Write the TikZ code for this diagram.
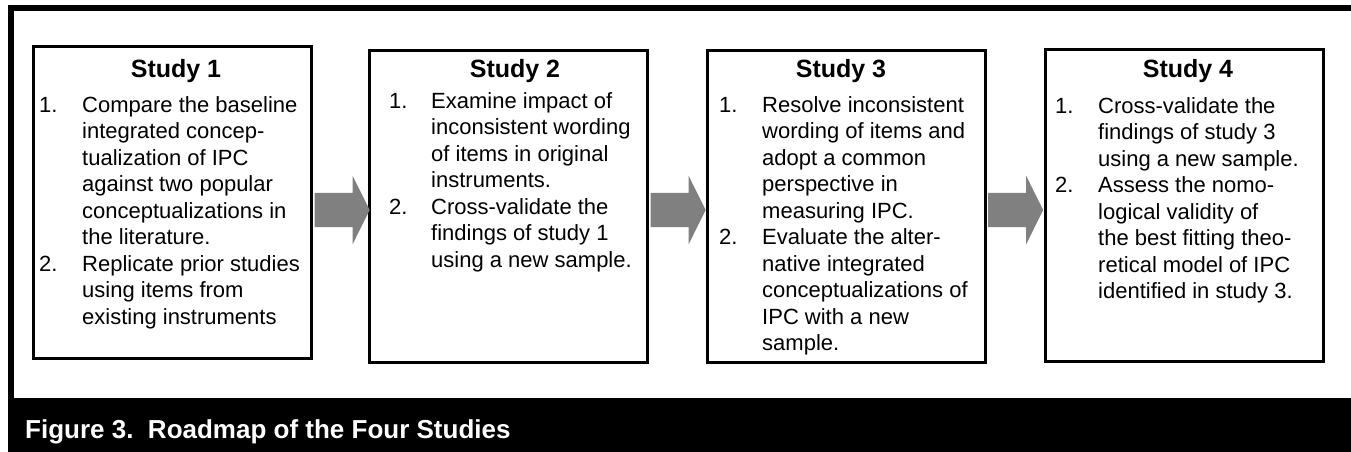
\documentclass[tikz,border=0pt]{standalone}
\usepackage{fontspec}
\setmainfont{Liberation Sans}
\usetikzlibrary{shapes.arrows}

\definecolor{arrowgray}{RGB}{128,128,128}
\newcommand{\bodyfont}{\fontsize{22}{26.5}\selectfont}

\begin{document}
\begin{tikzpicture}[x=1pt,y=-1pt,
  studybox/.style={draw,line width=3pt,fill=white,minimum width=278pt,minimum height=312pt,inner sep=0pt},
  studytitle/.style={anchor=base,inner sep=0pt,font=\fontsize{25}{30}\selectfont\bfseries},
  itemlist/.style={anchor=base west,inner sep=0pt,font=\bodyfont},
  flowarrow/.style={single arrow,fill=arrowgray,draw=none,inner xsep=0pt,inner ysep=17pt,
    minimum height=55pt,single arrow head extend=17pt,single arrow tip angle=127,anchor=tail}]
\useasboundingbox (0,0) rectangle (1351,451);

% frame and caption bar
\draw[line width=6pt] (11,8) rectangle (1356,420);
\fill (8,398) rectangle (1360,460);
\node[anchor=base west,inner sep=0pt,text=white,font=\fontsize{26}{30}\selectfont\bfseries] (caption) at (25,438)
  {Figure 3.\ \ Roadmap of the Four Studies};

% the four boxes
\node[studybox] (s1) at (172.5,202.5) {};
\node[studybox] (s2) at (508.5,206) {};
\node[studybox] (s3) at (846,206) {};
\node[studybox] (s4) at (1184,205.5) {};

\node[studytitle] (t1) at (176,77) {Study 1};
\node[studytitle] (t2) at (515,77) {Study 2};
\node[studytitle] (t3) at (841,77) {Study 3};
\node[studytitle] (t4) at (1188,77) {Study 4};

\node[itemlist] (l1) at (39,112) {\begin{tabular}[t]{@{}p{43pt}@{}l@{}}
1. & Compare the baseline\\
   & integrated concep-\\
   & tualization of IPC\\
   & against two popular\\
   & conceptualizations in\\
   & the literature.\\
2. & Replicate prior studies\\
   & using items from\\
   & existing instruments
\end{tabular}};

\node[itemlist] (l2) at (389,108) {\begin{tabular}[t]{@{}p{42pt}@{}l@{}}
1. & Examine impact of\\
   & inconsistent wording\\
   & of items in original\\
   & instruments.\\
2. & Cross-validate the\\
   & findings of study 1\\
   & using a new sample.
\end{tabular}};

\node[itemlist] (l3) at (719,112) {\begin{tabular}[t]{@{}p{43pt}@{}l@{}}
1. & Resolve inconsistent\\
   & wording of items and\\
   & adopt a common\\
   & perspective in\\
   & measuring IPC.\\
2. & Evaluate the alter-\\
   & native integrated\\
   & conceptualizations of\\
   & IPC with a new\\
   & sample.
\end{tabular}};

\node[itemlist] (l4) at (1055,113) {\begin{tabular}[t]{@{}p{43pt}@{}l@{}}
1. & Cross-validate the\\
   & findings of study 3\\
   & using a new sample.\\
2. & Assess the nomo-\\
   & logical validity of\\
   & the best fitting theo-\\
   & retical model of IPC\\
   & identified in study 3.
\end{tabular}};

% arrows between the studies
\coordinate (arrowrow) at (0,210);
\node[flowarrow] (a1) at ([xshift=1.5pt]s1.east |- arrowrow) {};
\node[flowarrow] (a2) at ([xshift=1.5pt]s2.east |- arrowrow) {};
\node[flowarrow] (a3) at ([xshift=1.5pt]s3.east |- arrowrow) {};

\end{tikzpicture}
\end{document}
